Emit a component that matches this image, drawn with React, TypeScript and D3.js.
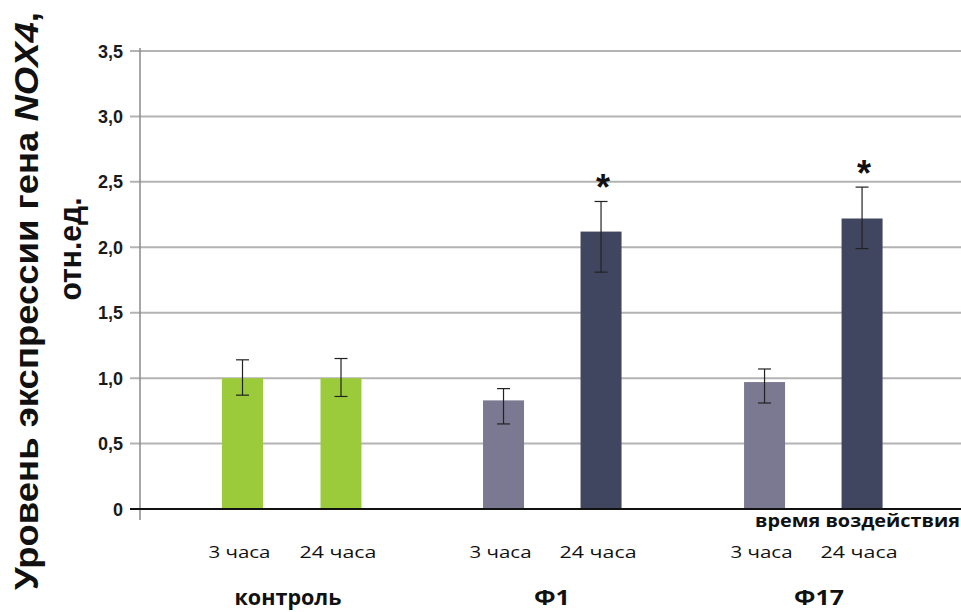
import React from "react";
import * as d3 from "d3";

const groups = ["контроль", "Ф1", "Ф17"];
const times = ["3 часа", "24 часа"];
const values = [1.0, 1.0, 0.83, 2.12, 0.97, 2.22];
const errLow = [0.87, 0.86, 0.65, 1.81, 0.81, 1.99];
const errHigh = [1.14, 1.15, 0.92, 2.35, 1.07, 2.46];
const significant = [false, false, false, true, false, true];
const barColors = ["#9bcb3b", "#9bcb3b", "#7b7891", "#414660", "#7b7891", "#414660"];
const yTicks = [0, 0.5, 1.0, 1.5, 2.0, 2.5, 3.0, 3.5];

const W = 961;
const H = 612;
const axisX = 140;
const right = 961;
const zeroY = 509;
const topY = 51;
const labelFont = "'Open Sans', 'Noto Sans', sans-serif";

export default function App() {
  const y = d3.scaleLinear().domain([0, 3.5]).range([zeroY, topY]);
  // Bar centres: two bars per group, groups separated by a wider gap
  const slot = d3.scaleLinear().domain([0, 1]).range([242.5, 341]);
  const positions = [0, 1, 2.65, 3.64, 5.3, 6.29];
  const cx = (i: number) => slot(positions[i]);
  const bw = 41;
  const fmt = (v: number) => (v === 0 ? "0" : d3.format(".1f")(v).replace(".", ","));
  const timeWidths = [62, 77];
  const groupCenters = [288, 552, 819];
  const groupWidths = [107, 36, 50];

  return (
    <svg width={W} height={H} style={{ display: "block", position: "absolute", left: 0, top: 0 }}
      fontFamily="Arial, 'Liberation Sans', sans-serif">
      <rect width={W} height={H} fill="#fff" />
      {yTicks.filter((t) => t > 0).map((t) => (
        <line key={t} x1={130} x2={right} y1={y(t)} y2={y(t)} stroke="#b3b3b3" strokeWidth={2} />
      ))}
      <line x1={axisX} x2={axisX} y1={48} y2={520} stroke="#8a8a8a" strokeWidth={1.5} />
      {yTicks.map((t) => (
        <text key={t} x={123} y={y(t) + 6.5} textAnchor="end" fontSize={18} fontWeight="bold" fill="#1a1a1a">
          {fmt(t)}
        </text>
      ))}
      {values.map((v, i) => (
        <g key={i}>
          <rect x={cx(i) - bw / 2} y={y(v)} width={bw} height={zeroY - y(v)} fill={barColors[i]} />
          <line x1={cx(i)} x2={cx(i)} y1={y(errHigh[i])} y2={y(errLow[i])} stroke="#222" strokeWidth={1.2} />
          <line x1={cx(i) - 6.5} x2={cx(i) + 6.5} y1={y(errHigh[i])} y2={y(errHigh[i])} stroke="#222" strokeWidth={1.2} />
          <line x1={cx(i) - 6.5} x2={cx(i) + 6.5} y1={y(errLow[i])} y2={y(errLow[i])} stroke="#222" strokeWidth={1.2} />
          {significant[i] && (
            <text x={cx(i) + 2} y={y(errHigh[i]) - 1} textAnchor="middle" fontSize={36} fontWeight="bold" fill="#111">
              *
            </text>
          )}
          <text x={cx(i) - 3} y={558} textAnchor="middle" fontSize={17} fill="#111" fontFamily={labelFont}
            textLength={timeWidths[i % 2]} lengthAdjust="spacingAndGlyphs">
            {times[i % 2]}
          </text>
        </g>
      ))}
      <line x1={130} x2={right} y1={zeroY} y2={zeroY} stroke="#111" strokeWidth={2} />
      {groups.map((g, gi) => (
        <text key={g} x={groupCenters[gi]} y={605} textAnchor="middle" fontSize={21} fontWeight="bold" fill="#111"
          fontFamily={labelFont} textLength={groupWidths[gi]} lengthAdjust="spacingAndGlyphs">
          {g}
        </text>
      ))}
      <text x={960} y={527} textAnchor="end" fontSize={18} fontWeight="bold" fill="#111" fontFamily={labelFont}
        textLength={205} lengthAdjust="spacingAndGlyphs">
        время воздействия
      </text>
      <text transform="translate(38,301) rotate(-90)" textAnchor="middle" fontSize={33} fontWeight="bold" fill="#111"
        textLength={578} lengthAdjust="spacingAndGlyphs">
        Уровень экспрессии гена <tspan fontStyle="italic">NOX4</tspan>,
      </text>
      <text transform="translate(81,249) rotate(-90)" textAnchor="middle" fontSize={32} fontWeight="bold" fill="#111"
        textLength={103} lengthAdjust="spacingAndGlyphs">
        отн.ед.
      </text>
    </svg>
  );
}
